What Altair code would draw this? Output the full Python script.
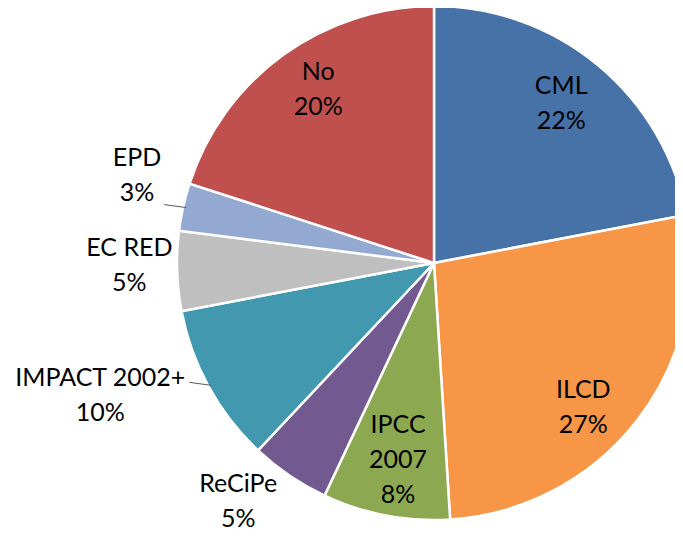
import altair as alt
import pandas as pd

# ---- data ----
categories = ["CML", "ILCD", "IPCC 2007", "ReCiPe", "IMPACT 2002+", "EC RED", "EPD", "No"]
shares = [22, 27, 8, 5, 10, 5, 3, 20]
colors = ["#4672A8", "#F79646", "#8CA850", "#725990", "#4198AF", "#BFBFBF", "#93A9D2", "#C0504D"]

# ---- label styling (placement tweaks, not data) ----
display_names = {"IPCC 2007": "IPCC\n2007"}
label_radius = {"CML": 218, "ILCD": 196, "IPCC 2007": 166, "ReCiPe": 295,
                "IMPACT 2002+": 353, "EC RED": 305, "EPD": 315, "No": 223}
label_shift = {"CML": -3.9, "ILCD": 2.6, "IPCC 2007": 1.7, "ReCiPe": 7.4,
               "IMPACT 2002+": 9.8, "EC RED": 4.6, "EPD": 6.9, "No": 4.7}
leader_cats = ["IMPACT 2002+", "EPD"]

df = pd.DataFrame({"category": categories, "share": shares, "idx": list(range(len(categories)))})
df["label"] = [display_names.get(c, c) + "\n" + f"{s}%" for c, s in zip(categories, shares)]
df["lr"] = df["category"].map(label_radius)
df["shift"] = df["category"].map(label_shift)
df["leader"] = df["category"].isin(leader_cats)

CX, CY, R = 426, 255, 257

pie = alt.Chart(df).mark_arc(outerRadius=R, stroke="white", strokeWidth=2.5).encode(
    theta=alt.Theta("share:Q", stack=True),
    order=alt.Order("idx:Q"),
    color=alt.Color("category:N", scale=alt.Scale(domain=categories, range=colors), legend=None),
    x=alt.value(CX),
    y=alt.value(CY),
)

base = (
    alt.Chart(df)
    .transform_joinaggregate(total="sum(share)")
    .transform_window(cum="sum(share)", sort=[alt.SortField("idx")], frame=[None, 0])
    .transform_calculate(
        mid0="(datum.cum - datum.share/2)/datum.total*2*PI",
    )
    .transform_calculate(mid="datum.mid0 + datum.shift*PI/180")
)

labels = base.mark_text(
    font="Lato", fontSize=25, lineBreak="\n", lineHeight=35,
    align="center", baseline="middle", color="#000000",
).encode(
    theta=alt.Theta("mid:Q", scale=None, stack=False),
    radius=alt.Radius("lr:Q", scale=None),
    text="label:N",
    x=alt.value(CX),
    y=alt.value(CY),
)

leaders = (
    base.transform_filter("datum.leader")
    .transform_calculate(
        lx1=f"{CX} + {R - 3}*sin(datum.mid0)",
        ly1=f"{CY} - {R - 3}*cos(datum.mid0)",
    )
    .transform_calculate(lx2="datum.lx1 - 22", ly2="datum.ly1 - 3")
    .mark_rule(color="#595959", strokeWidth=1)
    .encode(
        x=alt.X("lx1:Q", scale=None, axis=None),
        y=alt.Y("ly1:Q", scale=None, axis=None),
        x2="lx2:Q",
        y2="ly2:Q",
    )
)

chart = (
    alt.layer(pie, leaders, labels)
    .properties(width=667, height=526, padding=0, autosize="none")
    .configure_view(stroke=None)
)

chart.save("out.html", embed_options={"renderer": "svg", "actions": False})
